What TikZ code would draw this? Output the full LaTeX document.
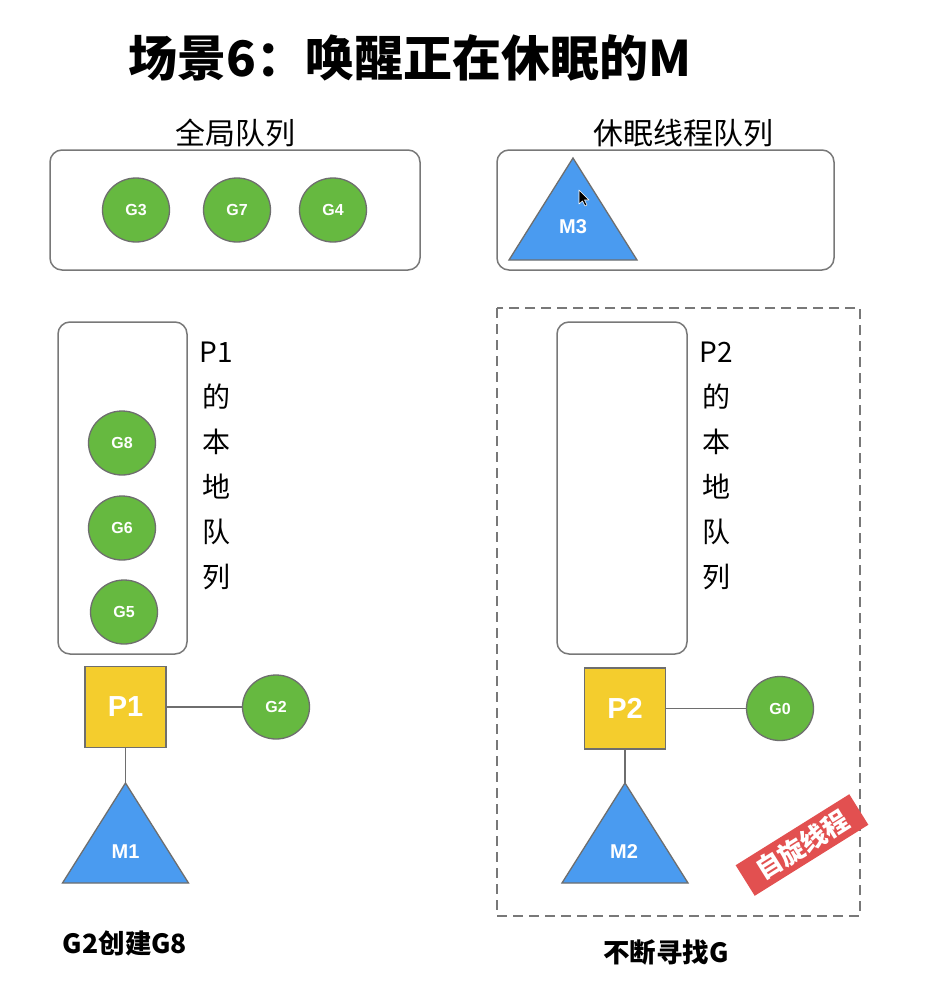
\documentclass[tikz,border=0pt]{standalone}
\usepackage{fontspec}
\newfontfamily\cjk{Noto Sans CJK SC}
\newfontfamily\lsans{Liberation Sans}
\usetikzlibrary{shapes.geometric}
\definecolor{ggreen}{RGB}{102,185,64}
\definecolor{mblue}{RGB}{74,155,240}
\definecolor{pyellow}{RGB}{244,205,45}
\definecolor{lred}{RGB}{226,80,80}
\definecolor{edgegrey}{RGB}{110,110,110}
\definecolor{boxgrey}{RGB}{120,120,120}
\tikzset{
  gnode/.style={ellipse, draw=edgegrey, line width=1.3pt, fill=ggreen, minimum width=67pt, minimum height=64pt, inner sep=0pt, text=white, font=\lsans\bfseries\fontsize{16}{16}\selectfont},
  pnode/.style={rectangle, draw=edgegrey, line width=1.3pt, fill=pyellow, minimum size=81pt, inner sep=0pt, text=white, font=\lsans\bfseries\fontsize{29}{29}\selectfont},
  mtri/.style={draw=edgegrey, line width=1.3pt, fill=mblue, line join=miter},
  mlabel/.style={inner sep=0pt, text=white, font=\lsans\bfseries\fontsize{20}{20}\selectfont},
  qbox/.style={draw=boxgrey, line width=1.5pt, rounded corners=12pt},
  link/.style={draw=edgegrey, line width=1.3pt},
  qlabel/.style={inner sep=0pt, font=\cjk\fontsize{30}{30}\selectfont},
  vlabel/.style={inner sep=0pt, align=center, font=\cjk\fontsize{28}{45}\selectfont},
  caption/.style={inner sep=0pt, font=\cjk\bfseries\fontsize{26.5}{26.5}\selectfont},
}
\begin{document}
\begin{tikzpicture}[x=1pt,y=-1pt]
\useasboundingbox[fill=white] (0,0) rectangle (925,986);
% title
\node[inner sep=0pt, font=\cjk\bfseries\fontsize{49}{49}\selectfont] (title) at (410,58) {场景6：唤醒正在休眠的M};
% global queue
\node[qlabel] (glabel) at (235,133) {全局队列};
\draw[qbox] (50,150) rectangle (420,270);
\node[gnode] (g3) at (136,210) {G3};
\node[gnode] (g7) at (237,210) {G7};
\node[gnode] (g4) at (333,210) {G4};
% sleeping thread queue
\node[qlabel] (slabel) at (683,133) {休眠线程队列};
\draw[qbox] (497,150) rectangle (834,270);
\coordinate (m3top) at (573,158);
\draw[mtri] (m3top) -- (637,260) -- (509,260) -- cycle;
\node[mlabel] (m3) at (573,227) {M3};
% cursor
\draw[fill=black, draw=white, line width=0.6pt, line join=round] (579,190) -- (579,204) -- (582.5,201) -- (585,206) -- (587,205) -- (584.5,200) -- (589,200) -- cycle;
% P1 local queue
\draw[qbox] (58,322) rectangle (187,654);
\node[vlabel] (p1label) at (216,466) {P1\\的\\本\\地\\队\\列};
\node[gnode] (g8) at (122,443) {G8};
\node[gnode] (g6) at (122,528) {G6};
\node[gnode] (g5) at (124,612) {G5};
% P1, G2, M1
\node[pnode] (p1) at (125.5,707) {P1};
\node[gnode] (g2) at (276,707) {G2};
\coordinate (m1top) at (125.5,783);
\draw[mtri] (m1top) -- (188.5,883) -- (62.5,883) -- cycle;
\node[mlabel] (m1) at (125.5,852) {M1};
\draw[link] (p1) -- (g2);
\draw[link] (p1) -- (m1top);
\node[caption] (cap1) at (125,943) {G2创建G8};
% dashed region
\draw[draw=boxgrey, line width=1.5pt, dash pattern=on 10pt off 6pt] (497,308) rectangle (860,916);
\draw[qbox] (557,322) rectangle (687,654);
\node[vlabel] (p2label) at (716,466) {P2\\的\\本\\地\\队\\列};
\node[pnode] (p2) at (625,708.5) {P2};
\node[gnode] (g0) at (780,708.5) {G0};
\coordinate (m2top) at (625,783);
\draw[mtri] (m2top) -- (688,883) -- (562,883) -- cycle;
\node[mlabel] (m2) at (624,852) {M2};
\draw[link] (p2) -- (g0);
\draw[link] (p2) -- (m2top);
\node[rotate=32, fill=lred, minimum width=134pt, minimum height=36pt, inner sep=0pt, text=white, font=\cjk\bfseries\fontsize{26}{26}\selectfont] (spin) at (802,845) {自旋线程};
\node[caption] (cap2) at (666,952) {不断寻找G};
\end{tikzpicture}
\end{document}
